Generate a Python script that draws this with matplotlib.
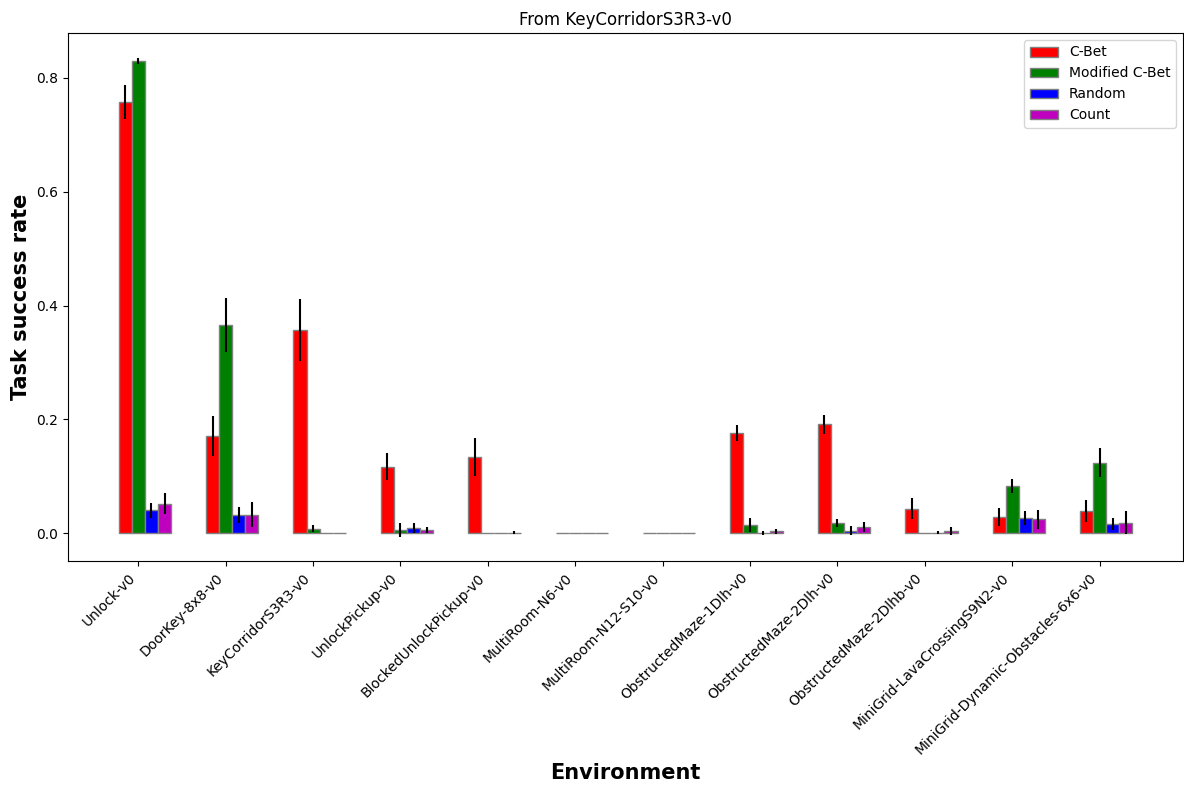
import numpy as np
import matplotlib
matplotlib.use("Agg")
import matplotlib.pyplot as plt

environments = [
    "Unlock-v0", "DoorKey-8x8-v0", "KeyCorridorS3R3-v0", "UnlockPickup-v0",
    "BlockedUnlockPickup-v0", "MultiRoom-N6-v0", "MultiRoom-N12-S10-v0",
    "ObstructedMaze-1Dlh-v0", "ObstructedMaze-2Dlh-v0", "ObstructedMaze-2Dlhb-v0",
    "MiniGrid-LavaCrossingS9N2-v0", "MiniGrid-Dynamic-Obstacles-6x6-v0",
]

cbet_mean = [0.758, 0.171, 0.357, 0.117, 0.134, 0.0, 0.0, 0.176, 0.191, 0.043, 0.028, 0.039]
cbet_err = [0.030, 0.035, 0.054, 0.024, 0.033, 0.0, 0.0, 0.014, 0.016, 0.018, 0.016, 0.019]

mod_mean = [0.830, 0.366, 0.008, 0.005, 0.0, 0.0, 0.0, 0.014, 0.018, 0.0, 0.083, 0.124]
mod_err = [0.005, 0.048, 0.006, 0.012, 0.0, 0.0, 0.0, 0.012, 0.007, 0.0, 0.012, 0.025]

rand_mean = [0.040, 0.032, 0.0, 0.009, 0.0, 0.0, 0.0, 0.0, 0.004, 0.001, 0.027, 0.016]
rand_err = [0.013, 0.014, 0.0, 0.008, 0.0, 0.0, 0.0, 0.003, 0.008, 0.003, 0.012, 0.010]

count_mean = [0.052, 0.032, 0.0, 0.005, 0.001, 0.0, 0.0, 0.003, 0.011, 0.004, 0.024, 0.018]
count_err = [0.018, 0.022, 0.0, 0.005, 0.003, 0.0, 0.0, 0.004, 0.009, 0.007, 0.017, 0.020]

bar_width = 0.15
r1 = np.arange(len(environments))
r2 = r1 + bar_width
r3 = r2 + bar_width
r4 = r3 + bar_width

fig = plt.figure(figsize=(11.84, 7.85), dpi=100)
ax = fig.add_axes([68 / 1184, 1 - 561 / 785, (1183 - 68) / 1184, (561 - 33) / 785])

err_kw = dict(elinewidth=1.5, ecolor="black")
ax.bar(r1, cbet_mean, yerr=cbet_err, width=bar_width, color="r", edgecolor="grey", label="C-Bet", error_kw=err_kw)
ax.bar(r2, mod_mean, yerr=mod_err, width=bar_width, color="g", edgecolor="grey", label="Modified C-Bet", error_kw=err_kw)
ax.bar(r3, rand_mean, yerr=rand_err, width=bar_width, color="b", edgecolor="grey", label="Random", error_kw=err_kw)
ax.bar(r4, count_mean, yerr=count_err, width=bar_width, color="m", edgecolor="grey", label="Count", error_kw=err_kw)

ax.set_xticks(r1 + bar_width)
ax.set_xticklabels(environments, rotation=45, ha="right")
ax.set_ylim(-0.049, 0.879)
ax.set_xlabel("Environment", fontweight="bold", fontsize=15)
ax.set_ylabel("Task success rate", fontweight="bold", fontsize=15)
ax.set_title("From KeyCorridorS3R3-v0", fontsize=12)
ax.legend(loc="upper right")

fig.savefig("out.png", dpi=100)
